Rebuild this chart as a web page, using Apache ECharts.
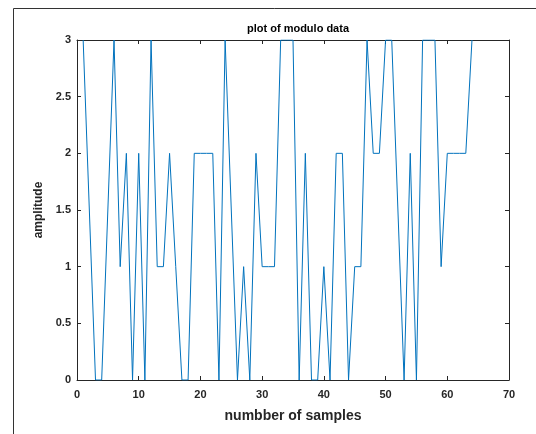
<!DOCTYPE html>
<html>
<head>
<meta charset="utf-8">
<script src="https://cdn.jsdelivr.net/npm/echarts@6/dist/echarts.min.js"></script>
<style>
html,body{margin:0;padding:0;background:#fff;}
#chart{width:536px;height:434px;}
</style>
</head>
<body>
<div id="chart"></div>
<script>
var titleText = 'plot of modulo data';
var xLabel = 'numbber of samples';
var yLabel = 'amplitude';
var samples = [1,2,3,4,5,6,7,8,9,10,11,12,13,14,15,16,17,18,19,20,21,22,23,24,25,26,27,28,29,30,31,32,33,34,35,36,37,38,39,40,41,42,43,44,45,46,47,48,49,50,51,52,53,54,55,56,57,58,59,60,61,62,63,64];
var amplitude = [3,1.5,0,0,1.5,3,1,2,0,2,0,3,1,1,2,1,0,0,2,2,2,2,0,3,1.5,0,1,0,2,1,1,1,3,3,3,0,2,0,0,1,0,2,2,0,1,1,3,2,2,3,3,1.5,0,2,0,3,3,3,1,2,2,2,2,3];

var pts = samples.map(function(s,i){return [s, amplitude[i]];});
var axisColor = '#262626';
var font = 'Liberation Sans, Arial, Helvetica, sans-serif';

var chart = echarts.init(document.getElementById('chart'), null, {renderer:'canvas'});
chart.setOption({
  animation:false,
  backgroundColor:'#ffffff',
  title:{
    text:titleText, left:293, textAlign:'center', top:18,
    textStyle:{fontFamily:font, fontSize:11, fontWeight:'bold', color:'#000'}
  },
  grid:{left:77, right:27, top:40, bottom:54, containLabel:false},
  xAxis:[{
    type:'value', min:0, max:70, interval:10,
    name:xLabel, nameLocation:'middle', nameGap:29,
    nameTextStyle:{fontFamily:font, fontSize:14, fontWeight:'bold', color:axisColor},
    axisLine:{show:true, onZero:false, lineStyle:{color:axisColor, width:1}},
    axisTick:{show:true, inside:true, length:4, lineStyle:{color:axisColor}},
    axisLabel:{fontFamily:font, fontSize:11, fontWeight:'bold', color:axisColor, margin:9},
    splitLine:{show:false}
  },{
    type:'value', min:0, max:70, interval:10, position:'top',
    axisLine:{show:true, onZero:false, lineStyle:{color:axisColor, width:1}},
    axisTick:{show:true, inside:true, length:4, lineStyle:{color:axisColor}},
    axisLabel:{show:false}, splitLine:{show:false}
  }],
  yAxis:[{
    type:'value', min:0, max:3, interval:0.5,
    name:yLabel, nameLocation:'middle', nameGap:31, nameRotate:90,
    nameTextStyle:{fontFamily:font, fontSize:12, fontWeight:'bold', color:axisColor},
    axisLine:{show:true, onZero:false, lineStyle:{color:axisColor, width:1}},
    axisTick:{show:true, inside:true, length:4, lineStyle:{color:axisColor}},
    axisLabel:{fontFamily:font, fontSize:11, fontWeight:'bold', color:axisColor, margin:6},
    splitLine:{show:false}
  },{
    type:'value', min:0, max:3, interval:0.5, position:'right',
    axisLine:{show:true, onZero:false, lineStyle:{color:axisColor, width:1}},
    axisTick:{show:true, inside:true, length:4, lineStyle:{color:axisColor}},
    axisLabel:{show:false}, splitLine:{show:false}
  }],
  graphic:[
    {type:'line', shape:{x1:13.5, y1:8.5, x2:536, y2:8.5}, style:{stroke:'#333', lineWidth:1}, silent:true},
    {type:'line', shape:{x1:13.5, y1:8.5, x2:13.5, y2:434}, style:{stroke:'#333', lineWidth:1}, silent:true}
  ],
  series:[{
    type:'line', data:pts, xAxisIndex:0, yAxisIndex:0,
    showSymbol:false, symbol:'none',
    lineStyle:{color:'#0072BD', width:1},
    clip:true
  }]
});
</script>
</body>
</html>
